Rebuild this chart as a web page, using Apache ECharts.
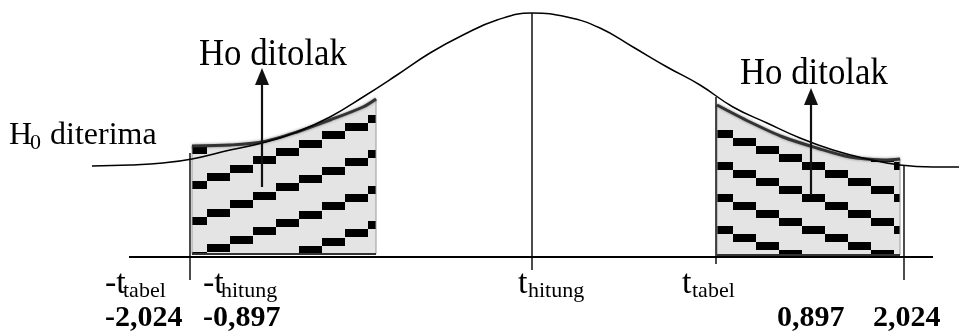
<!DOCTYPE html>
<html>
<head>
<meta charset="utf-8">
<script src="https://cdn.jsdelivr.net/npm/echarts@6/dist/echarts.min.js"></script>
<style>
  html, body { margin: 0; padding: 0; background: #fff; }
  #chart { width: 959px; height: 335px; }
</style>
</head>
<body>
<div id="chart"></div>
<script>
// horizontal unit: distance from t hitung, vertical unit: height above the t axis
var curve = [
    [-440, 91], [-402, 92], [-369, 94], [-340, 98], [-302, 107], [-270, 114],
    [-235, 125], [-202, 140], [-169, 160], [-135, 182], [-102, 204], [-69, 222],
    [-35, 237], [0, 244], [35, 240], [68, 229], [101, 210], [135, 190],
    [168, 172], [201, 150], [235, 134], [268, 119], [301, 107], [335, 98],
    [368, 92], [401, 90], [427, 90]
];
// top edge of the two rejection regions, and their bottom level
var leftRegion = [[-340, 111], [-302, 112], [-270, 115], [-235, 125], [-202, 137], [-169, 150], [-156, 158]];
var rightRegion = [[185, 152], [218, 135], [251, 120], [285, 109], [318, 100], [351, 97], [368, 98]];
var regionBase = [3, 2];
// vertical guides: x, top, bottom
var guides = [[-342, 104, -23], [0, 244, -13], [184, 160, -7], [372, 91, -23]];
var axisLine = [[-403, 0], [401, 0]];
// arrows: x, from, to
var arrows = [[-270, 70, 189], [279, 62, 169]];

var rejectText = ['Ho ditolak', 'Ho ditolak'];
var acceptText = ['H', '0', 'diterima'];
var tNames = [['-t', 'tabel'], ['-t', 'hitung'], ['t', 'hitung'], ['t', 'tabel']];
var tValues = ['-2,024', '-0,897', '0,897', '2,024'];

var serif = '"Liberation Serif", "Times New Roman", serif';

// stair-step dash texture, anchored to the canvas origin
function makeHatch(w, h, stepX, stepY, gap, ax, ay, dw, dh) {
    var c = document.createElement('canvas');
    c.width = w;
    c.height = h;
    var ctx = c.getContext('2d');
    ctx.fillStyle = '#e4e4e4';
    ctx.fillRect(0, 0, w, h);
    ctx.fillStyle = '#000';
    var n = Math.round(w / stepX);
    for (var i = -n; i <= 2 * n; i++) {
        var x = ax + stepX * i;
        var y = ay + stepY * i;
        x = ((x % w) + w) % w;
        y = ((y % h) + h) % h;
        for (var ox = -w; ox <= w; ox += w) {
            for (var k = -Math.ceil(h / gap) - 1; k <= Math.ceil(h / gap) + 1; k++) {
                ctx.fillRect(Math.round(x + ox), Math.round(y + k * gap), dw, dh);
            }
        }
    }
    return { image: c, repeat: 'repeat' };
}

var leftHatch = makeHatch(391, 142, 23, -142 / 17, 35.5, 207, 244, 23, 8);
var rightHatch = makeHatch(92, 32, 23, 8, 32, 733, 138, 23, 8);

function regionSeries(pts, base, fill) {
    return {
        type: 'custom',
        silent: true,
        z: 2,
        data: pts,
        renderItem: function (params, api) {
            if (params.dataIndex !== 0) return;
            var top = pts.map(function (p) { return api.coord(p); });
            var last = pts[pts.length - 1], first = pts[0];
            var poly = top.concat([api.coord([last[0], base]), api.coord([first[0], base])]);
            return {
                type: 'group',
                children: [
                    { type: 'polygon', shape: { points: poly },
                      style: { fill: fill, stroke: '#9a9a9a', lineWidth: 1 } },
                    { type: 'polyline', shape: { points: top, smooth: 0.3 },
                      style: { fill: null, stroke: '#333', lineWidth: 3, shadowBlur: 3, shadowColor: 'rgba(0,0,0,0.45)' } },
                    { type: 'line', shape: { x1: poly[poly.length - 2][0], y1: poly[poly.length - 2][1], x2: poly[poly.length - 1][0], y2: poly[poly.length - 1][1] },
                      style: { stroke: '#333', lineWidth: 2 } }
                ]
            };
        }
    };
}

function txt(s, x, baseline, size, bold, sx) {
    return {
        type: 'text', x: x, y: baseline - 0.35 * size, z: 10, silent: true,
        scaleX: sx || 1,
        style: {
            text: s, fill: '#000', font: (bold ? 'bold ' : '') + size + 'px ' + serif,
            align: 'left', verticalAlign: 'middle'
        }
    };
}

var tPos = [[105, 123], [203, 221], [518, 528], [682, 692]];
var vPos = [105, 203, 777, 873];
var graphics = [
    txt(rejectText[0], 199, 68, 37, false, 0.94),
    txt(rejectText[1], 740, 87, 37, false, 0.94),
    txt(acceptText[0], 9, 147, 32),
    txt(acceptText[1], 30, 151, 22),
    txt(acceptText[2], 50, 147, 32)
];
tNames.forEach(function (t, i) {
    graphics.push(txt(t[0], tPos[i][0], 296, 34));
    graphics.push(txt(t[1], tPos[i][1], 299, 22));
});
tValues.forEach(function (v, i) {
    graphics.push(txt(v, vPos[i], 329, 30, true));
});

var chart = echarts.init(document.getElementById('chart'));
chart.setOption({
    animation: false,
    grid: { left: 0, right: 0, top: 0, bottom: 0 },
    xAxis: { type: 'value', min: -532, max: 427, show: false },
    yAxis: { type: 'value', min: -78, max: 257, show: false },
    graphic: graphics,
    series: [
        regionSeries(leftRegion, regionBase[0], leftHatch),
        regionSeries(rightRegion, regionBase[1], rightHatch),
        {
            type: 'line', data: axisLine, symbol: 'none', silent: true, z: 3,
            lineStyle: { color: '#000', width: 1.8 }
        },
        {
            type: 'custom', silent: true, z: 4, data: guides,
            renderItem: function (params, api) {
                var a = api.coord([api.value(0), api.value(1)]);
                var b = api.coord([api.value(0), api.value(2)]);
                return { type: 'line', shape: { x1: a[0], y1: a[1], x2: b[0], y2: b[1] },
                         style: { stroke: '#000', lineWidth: 1.4 } };
            }
        },
        {
            type: 'line', data: curve, smooth: 0.45, symbol: 'none', silent: true, z: 5,
            lineStyle: { color: '#000', width: 1.5 }
        },
        {
            type: 'custom', silent: true, z: 6, data: arrows,
            renderItem: function (params, api) {
                var a = api.coord([api.value(0), api.value(1)]);
                var b = api.coord([api.value(0), api.value(2)]);
                return {
                    type: 'group',
                    children: [
                        { type: 'line', shape: { x1: a[0], y1: a[1], x2: b[0], y2: b[1] + 14 },
                          style: { stroke: '#111', lineWidth: 2.2 } },
                        { type: 'polygon', shape: { points: [[b[0], b[1]], [b[0] - 7, b[1] + 17], [b[0] + 7, b[1] + 17]] },
                          style: { fill: '#111' } }
                    ]
                };
            }
        }
    ]
});
</script>
</body>
</html>
